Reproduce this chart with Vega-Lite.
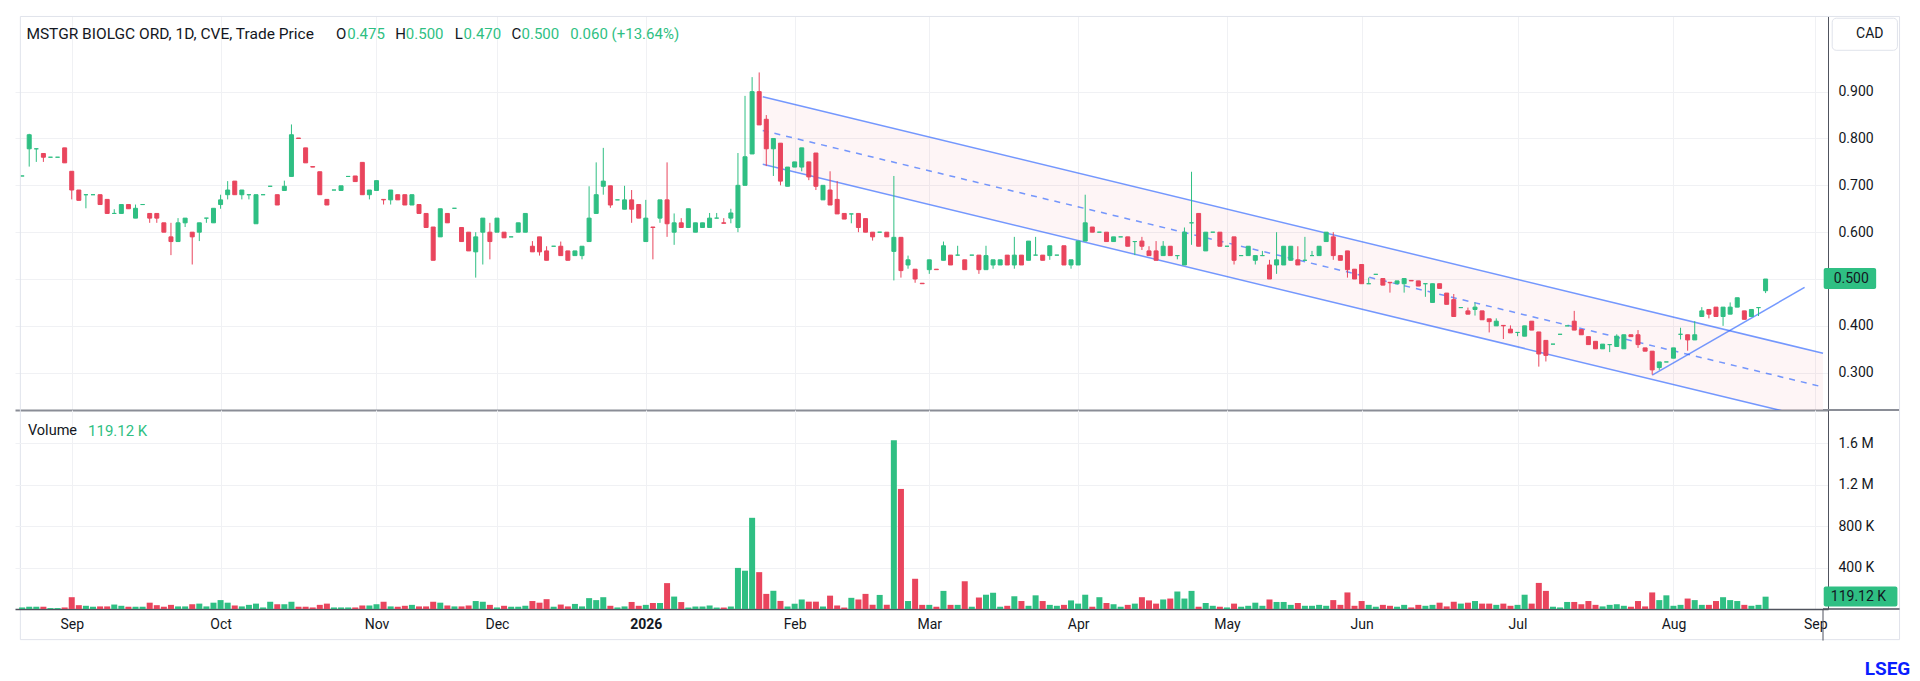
{
"$schema": "https://vega.github.io/schema/vega-lite/v6.json",
"padding": {"left": 15, "top": 15, "right": 5, "bottom": 5},
"background": "white",
"bounds": "flush",
"spacing": 0,
"config": {"view": {"stroke": null}, "font": "Roboto"},
"datasets": {
"one": [{}],
"chan": [{"i": 104.5, "up": 0.889, "lo": 0.745, "mid": 0.817}, {"i": 254.1, "up": 0.3415, "lo": 0.1975, "mid": 0.2695}],
"trend": [{"i": 230, "p": 0.295}, {"i": 251.5, "p": 0.482}],
"ohlc": [
{"i":0,"o":0.72,"h":0.72,"l":0.72,"c":0.72,"v":15000},
{"i":1,"o":0.778,"h":0.81,"l":0.74,"c":0.808,"v":22000},
{"i":2,"o":0.778,"h":0.778,"l":0.75,"c":0.778,"v":22000},
{"i":3,"o":0.768,"h":0.768,"l":0.75,"c":0.76,"v":22000},
{"i":4,"o":0.76,"h":0.76,"l":0.76,"c":0.76,"v":9000},
{"i":5,"o":0.76,"h":0.76,"l":0.76,"c":0.76,"v":9000},
{"i":6,"o":0.78,"h":0.78,"l":0.748,"c":0.748,"v":15000},
{"i":7,"o":0.73,"h":0.73,"l":0.67,"c":0.69,"v":114000},
{"i":8,"o":0.69,"h":0.69,"l":0.668,"c":0.668,"v":37000},
{"i":9,"o":0.68,"h":0.68,"l":0.651,"c":0.68,"v":31000},
{"i":10,"o":0.68,"h":0.68,"l":0.68,"c":0.68,"v":22000},
{"i":11,"o":0.68,"h":0.68,"l":0.659,"c":0.659,"v":25000},
{"i":12,"o":0.67,"h":0.67,"l":0.64,"c":0.64,"v":25000},
{"i":13,"o":0.64,"h":0.649,"l":0.64,"c":0.64,"v":43000},
{"i":14,"o":0.64,"h":0.659,"l":0.64,"c":0.659,"v":31000},
{"i":15,"o":0.659,"h":0.659,"l":0.65,"c":0.65,"v":22000},
{"i":16,"o":0.63,"h":0.659,"l":0.63,"c":0.651,"v":22000},
{"i":17,"o":0.659,"h":0.659,"l":0.659,"c":0.659,"v":22000},
{"i":18,"o":0.64,"h":0.64,"l":0.62,"c":0.63,"v":61000},
{"i":19,"o":0.64,"h":0.64,"l":0.62,"c":0.63,"v":37000},
{"i":20,"o":0.62,"h":0.62,"l":0.6,"c":0.6,"v":22000},
{"i":21,"o":0.59,"h":0.62,"l":0.551,"c":0.58,"v":40000},
{"i":22,"o":0.58,"h":0.63,"l":0.58,"c":0.62,"v":25000},
{"i":23,"o":0.62,"h":0.63,"l":0.611,"c":0.63,"v":25000},
{"i":24,"o":0.6,"h":0.6,"l":0.531,"c":0.59,"v":46000},
{"i":25,"o":0.6,"h":0.62,"l":0.581,"c":0.62,"v":52000},
{"i":26,"o":0.63,"h":0.63,"l":0.62,"c":0.63,"v":25000},
{"i":27,"o":0.62,"h":0.651,"l":0.62,"c":0.651,"v":61000},
{"i":28,"o":0.659,"h":0.68,"l":0.65,"c":0.669,"v":86000},
{"i":29,"o":0.68,"h":0.709,"l":0.67,"c":0.69,"v":61000},
{"i":30,"o":0.709,"h":0.709,"l":0.68,"c":0.68,"v":34000},
{"i":31,"o":0.68,"h":0.69,"l":0.67,"c":0.69,"v":25000},
{"i":32,"o":0.68,"h":0.68,"l":0.67,"c":0.68,"v":40000},
{"i":33,"o":0.618,"h":0.68,"l":0.618,"c":0.68,"v":52000},
{"i":34,"o":0.68,"h":0.68,"l":0.68,"c":0.68,"v":15000},
{"i":35,"o":0.698,"h":0.698,"l":0.698,"c":0.698,"v":70000},
{"i":36,"o":0.68,"h":0.68,"l":0.658,"c":0.658,"v":46000},
{"i":37,"o":0.689,"h":0.71,"l":0.689,"c":0.698,"v":46000},
{"i":38,"o":0.719,"h":0.83,"l":0.719,"c":0.808,"v":70000},
{"i":39,"o":0.801,"h":0.801,"l":0.8,"c":0.8,"v":22000},
{"i":40,"o":0.78,"h":0.78,"l":0.748,"c":0.748,"v":22000},
{"i":41,"o":0.74,"h":0.74,"l":0.739,"c":0.739,"v":15000},
{"i":42,"o":0.729,"h":0.729,"l":0.68,"c":0.68,"v":40000},
{"i":43,"o":0.67,"h":0.67,"l":0.658,"c":0.658,"v":52000},
{"i":44,"o":0.69,"h":0.69,"l":0.69,"c":0.69,"v":15000},
{"i":45,"o":0.689,"h":0.699,"l":0.689,"c":0.699,"v":15000},
{"i":46,"o":0.719,"h":0.719,"l":0.719,"c":0.719,"v":15000},
{"i":47,"o":0.72,"h":0.72,"l":0.708,"c":0.708,"v":15000},
{"i":48,"o":0.749,"h":0.749,"l":0.68,"c":0.68,"v":34000},
{"i":49,"o":0.68,"h":0.69,"l":0.67,"c":0.69,"v":34000},
{"i":50,"o":0.689,"h":0.71,"l":0.689,"c":0.71,"v":46000},
{"i":51,"o":0.67,"h":0.67,"l":0.659,"c":0.669,"v":70000},
{"i":52,"o":0.669,"h":0.69,"l":0.659,"c":0.69,"v":25000},
{"i":53,"o":0.68,"h":0.68,"l":0.669,"c":0.669,"v":22000},
{"i":54,"o":0.68,"h":0.68,"l":0.658,"c":0.658,"v":31000},
{"i":55,"o":0.658,"h":0.68,"l":0.658,"c":0.68,"v":40000},
{"i":56,"o":0.659,"h":0.659,"l":0.64,"c":0.64,"v":25000},
{"i":57,"o":0.64,"h":0.64,"l":0.61,"c":0.61,"v":25000},
{"i":58,"o":0.611,"h":0.611,"l":0.54,"c":0.54,"v":70000},
{"i":59,"o":0.59,"h":0.65,"l":0.59,"c":0.65,"v":61000},
{"i":60,"o":0.64,"h":0.64,"l":0.62,"c":0.62,"v":34000},
{"i":61,"o":0.651,"h":0.651,"l":0.651,"c":0.651,"v":25000},
{"i":62,"o":0.61,"h":0.61,"l":0.58,"c":0.58,"v":25000},
{"i":63,"o":0.6,"h":0.6,"l":0.56,"c":0.56,"v":34000},
{"i":64,"o":0.558,"h":0.6,"l":0.503,"c":0.59,"v":77000},
{"i":65,"o":0.6,"h":0.63,"l":0.531,"c":0.63,"v":70000},
{"i":66,"o":0.6,"h":0.62,"l":0.542,"c":0.58,"v":40000},
{"i":67,"o":0.6,"h":0.63,"l":0.6,"c":0.63,"v":15000},
{"i":68,"o":0.6,"h":0.6,"l":0.588,"c":0.588,"v":31000},
{"i":69,"o":0.59,"h":0.59,"l":0.59,"c":0.59,"v":22000},
{"i":70,"o":0.6,"h":0.62,"l":0.6,"c":0.62,"v":22000},
{"i":71,"o":0.6,"h":0.64,"l":0.6,"c":0.64,"v":31000},
{"i":72,"o":0.57,"h":0.581,"l":0.558,"c":0.558,"v":77000},
{"i":73,"o":0.59,"h":0.59,"l":0.55,"c":0.558,"v":61000},
{"i":74,"o":0.56,"h":0.57,"l":0.54,"c":0.54,"v":95000},
{"i":75,"o":0.57,"h":0.57,"l":0.57,"c":0.57,"v":22000},
{"i":76,"o":0.57,"h":0.58,"l":0.55,"c":0.55,"v":43000},
{"i":77,"o":0.56,"h":0.56,"l":0.54,"c":0.54,"v":25000},
{"i":78,"o":0.55,"h":0.56,"l":0.55,"c":0.56,"v":49000},
{"i":79,"o":0.55,"h":0.57,"l":0.542,"c":0.57,"v":25000},
{"i":80,"o":0.58,"h":0.698,"l":0.58,"c":0.63,"v":105000},
{"i":81,"o":0.64,"h":0.749,"l":0.64,"c":0.68,"v":86000},
{"i":82,"o":0.698,"h":0.78,"l":0.68,"c":0.709,"v":114000},
{"i":83,"o":0.699,"h":0.699,"l":0.652,"c":0.658,"v":31000},
{"i":84,"o":0.669,"h":0.669,"l":0.669,"c":0.669,"v":15000},
{"i":85,"o":0.649,"h":0.699,"l":0.649,"c":0.669,"v":25000},
{"i":86,"o":0.669,"h":0.69,"l":0.62,"c":0.649,"v":68000},
{"i":87,"o":0.659,"h":0.659,"l":0.63,"c":0.63,"v":31000},
{"i":88,"o":0.58,"h":0.669,"l":0.58,"c":0.63,"v":40000},
{"i":89,"o":0.611,"h":0.611,"l":0.542,"c":0.61,"v":58000},
{"i":90,"o":0.63,"h":0.669,"l":0.62,"c":0.669,"v":58000},
{"i":91,"o":0.669,"h":0.749,"l":0.59,"c":0.618,"v":250000},
{"i":92,"o":0.6,"h":0.64,"l":0.573,"c":0.62,"v":120000},
{"i":93,"o":0.62,"h":0.63,"l":0.61,"c":0.61,"v":67000},
{"i":94,"o":0.61,"h":0.65,"l":0.61,"c":0.65,"v":14000},
{"i":95,"o":0.6,"h":0.62,"l":0.6,"c":0.62,"v":24000},
{"i":96,"o":0.61,"h":0.62,"l":0.61,"c":0.62,"v":24000},
{"i":97,"o":0.61,"h":0.641,"l":0.61,"c":0.63,"v":34000},
{"i":98,"o":0.63,"h":0.641,"l":0.63,"c":0.63,"v":14000},
{"i":99,"o":0.62,"h":0.63,"l":0.619,"c":0.619,"v":14000},
{"i":100,"o":0.63,"h":0.65,"l":0.619,"c":0.641,"v":24000},
{"i":101,"o":0.61,"h":0.769,"l":0.6,"c":0.7,"v":397000},
{"i":102,"o":0.7,"h":0.891,"l":0.7,"c":0.761,"v":370000},
{"i":103,"o":0.767,"h":0.931,"l":0.767,"c":0.9,"v":881000},
{"i":104,"o":0.9,"h":0.941,"l":0.829,"c":0.829,"v":356000},
{"i":105,"o":0.841,"h":0.85,"l":0.741,"c":0.778,"v":146000},
{"i":106,"o":0.778,"h":0.8,"l":0.72,"c":0.8,"v":176000},
{"i":107,"o":0.79,"h":0.79,"l":0.7,"c":0.709,"v":78000},
{"i":108,"o":0.698,"h":0.739,"l":0.698,"c":0.739,"v":24000},
{"i":109,"o":0.739,"h":0.75,"l":0.739,"c":0.75,"v":51000},
{"i":110,"o":0.739,"h":0.78,"l":0.73,"c":0.78,"v":92000},
{"i":111,"o":0.75,"h":0.75,"l":0.711,"c":0.718,"v":71000},
{"i":112,"o":0.769,"h":0.769,"l":0.69,"c":0.698,"v":71000},
{"i":113,"o":0.669,"h":0.7,"l":0.669,"c":0.7,"v":24000},
{"i":114,"o":0.69,"h":0.73,"l":0.658,"c":0.658,"v":129000},
{"i":115,"o":0.67,"h":0.709,"l":0.639,"c":0.639,"v":34000},
{"i":116,"o":0.64,"h":0.64,"l":0.628,"c":0.628,"v":14000},
{"i":117,"o":0.639,"h":0.639,"l":0.619,"c":0.639,"v":108000},
{"i":118,"o":0.64,"h":0.64,"l":0.6,"c":0.61,"v":92000},
{"i":119,"o":0.629,"h":0.629,"l":0.6,"c":0.6,"v":146000},
{"i":120,"o":0.6,"h":0.6,"l":0.582,"c":0.59,"v":41000},
{"i":121,"o":0.6,"h":0.6,"l":0.6,"c":0.6,"v":136000},
{"i":122,"o":0.6,"h":0.6,"l":0.59,"c":0.59,"v":41000},
{"i":123,"o":0.559,"h":0.72,"l":0.497,"c":0.589,"v":1630000},
{"i":124,"o":0.589,"h":0.589,"l":0.503,"c":0.518,"v":1160000},
{"i":125,"o":0.53,"h":0.55,"l":0.522,"c":0.541,"v":77000},
{"i":126,"o":0.521,"h":0.521,"l":0.492,"c":0.5,"v":292000},
{"i":127,"o":0.491,"h":0.491,"l":0.49,"c":0.49,"v":40000},
{"i":128,"o":0.52,"h":0.541,"l":0.511,"c":0.541,"v":40000},
{"i":129,"o":0.521,"h":0.521,"l":0.52,"c":0.52,"v":22000},
{"i":130,"o":0.54,"h":0.58,"l":0.54,"c":0.571,"v":175000},
{"i":131,"o":0.551,"h":0.551,"l":0.53,"c":0.53,"v":40000},
{"i":132,"o":0.551,"h":0.571,"l":0.551,"c":0.551,"v":40000},
{"i":133,"o":0.541,"h":0.541,"l":0.52,"c":0.52,"v":268000},
{"i":134,"o":0.551,"h":0.551,"l":0.551,"c":0.551,"v":22000},
{"i":135,"o":0.551,"h":0.551,"l":0.511,"c":0.52,"v":111000},
{"i":136,"o":0.52,"h":0.571,"l":0.52,"c":0.55,"v":138000},
{"i":137,"o":0.53,"h":0.541,"l":0.522,"c":0.541,"v":157000},
{"i":138,"o":0.53,"h":0.541,"l":0.53,"c":0.541,"v":22000},
{"i":139,"o":0.551,"h":0.551,"l":0.53,"c":0.53,"v":31000},
{"i":140,"o":0.53,"h":0.59,"l":0.522,"c":0.551,"v":123000},
{"i":141,"o":0.551,"h":0.551,"l":0.53,"c":0.53,"v":77000},
{"i":142,"o":0.54,"h":0.581,"l":0.54,"c":0.581,"v":31000},
{"i":143,"o":0.551,"h":0.59,"l":0.551,"c":0.551,"v":132000},
{"i":144,"o":0.551,"h":0.551,"l":0.54,"c":0.54,"v":77000},
{"i":145,"o":0.55,"h":0.571,"l":0.541,"c":0.571,"v":40000},
{"i":146,"o":0.551,"h":0.551,"l":0.551,"c":0.551,"v":31000},
{"i":147,"o":0.571,"h":0.571,"l":0.53,"c":0.53,"v":40000},
{"i":148,"o":0.53,"h":0.541,"l":0.522,"c":0.541,"v":83000},
{"i":149,"o":0.53,"h":0.581,"l":0.53,"c":0.581,"v":52000},
{"i":150,"o":0.581,"h":0.68,"l":0.581,"c":0.62,"v":138000},
{"i":151,"o":0.611,"h":0.611,"l":0.6,"c":0.6,"v":22000},
{"i":152,"o":0.6,"h":0.6,"l":0.6,"c":0.6,"v":114000},
{"i":153,"o":0.6,"h":0.6,"l":0.58,"c":0.58,"v":58000},
{"i":154,"o":0.58,"h":0.59,"l":0.58,"c":0.59,"v":46000},
{"i":155,"o":0.59,"h":0.59,"l":0.59,"c":0.59,"v":22000},
{"i":156,"o":0.59,"h":0.59,"l":0.57,"c":0.57,"v":40000},
{"i":157,"o":0.58,"h":0.58,"l":0.551,"c":0.58,"v":52000},
{"i":158,"o":0.581,"h":0.59,"l":0.562,"c":0.57,"v":114000},
{"i":159,"o":0.56,"h":0.57,"l":0.55,"c":0.55,"v":83000},
{"i":160,"o":0.56,"h":0.581,"l":0.54,"c":0.54,"v":52000},
{"i":161,"o":0.55,"h":0.581,"l":0.55,"c":0.57,"v":92000},
{"i":162,"o":0.57,"h":0.57,"l":0.55,"c":0.55,"v":101000},
{"i":163,"o":0.55,"h":0.55,"l":0.542,"c":0.55,"v":169000},
{"i":164,"o":0.53,"h":0.61,"l":0.53,"c":0.6,"v":101000},
{"i":165,"o":0.62,"h":0.729,"l":0.573,"c":0.62,"v":175000},
{"i":166,"o":0.64,"h":0.64,"l":0.57,"c":0.57,"v":22000},
{"i":167,"o":0.56,"h":0.6,"l":0.56,"c":0.6,"v":58000},
{"i":168,"o":0.6,"h":0.6,"l":0.6,"c":0.6,"v":31000},
{"i":169,"o":0.6,"h":0.6,"l":0.57,"c":0.57,"v":22000},
{"i":170,"o":0.57,"h":0.57,"l":0.57,"c":0.57,"v":15000},
{"i":171,"o":0.59,"h":0.59,"l":0.531,"c":0.54,"v":52000},
{"i":172,"o":0.55,"h":0.55,"l":0.55,"c":0.55,"v":22000},
{"i":173,"o":0.55,"h":0.57,"l":0.55,"c":0.57,"v":31000},
{"i":174,"o":0.54,"h":0.55,"l":0.531,"c":0.55,"v":61000},
{"i":175,"o":0.55,"h":0.56,"l":0.55,"c":0.55,"v":31000},
{"i":176,"o":0.53,"h":0.541,"l":0.5,"c":0.5,"v":92000},
{"i":177,"o":0.53,"h":0.6,"l":0.511,"c":0.541,"v":68000},
{"i":178,"o":0.53,"h":0.57,"l":0.53,"c":0.57,"v":68000},
{"i":179,"o":0.54,"h":0.57,"l":0.54,"c":0.57,"v":40000},
{"i":180,"o":0.541,"h":0.57,"l":0.53,"c":0.53,"v":58000},
{"i":181,"o":0.54,"h":0.59,"l":0.54,"c":0.54,"v":31000},
{"i":182,"o":0.55,"h":0.56,"l":0.55,"c":0.55,"v":31000},
{"i":183,"o":0.55,"h":0.57,"l":0.55,"c":0.57,"v":40000},
{"i":184,"o":0.58,"h":0.6,"l":0.58,"c":0.6,"v":31000},
{"i":185,"o":0.59,"h":0.6,"l":0.541,"c":0.55,"v":86000},
{"i":186,"o":0.55,"h":0.55,"l":0.54,"c":0.54,"v":40000},
{"i":187,"o":0.56,"h":0.56,"l":0.503,"c":0.52,"v":160000},
{"i":188,"o":0.521,"h":0.521,"l":0.5,"c":0.5,"v":31000},
{"i":189,"o":0.531,"h":0.531,"l":0.49,"c":0.49,"v":77000},
{"i":190,"o":0.49,"h":0.503,"l":0.49,"c":0.49,"v":40000},
{"i":191,"o":0.51,"h":0.51,"l":0.51,"c":0.51,"v":22000},
{"i":192,"o":0.501,"h":0.501,"l":0.487,"c":0.487,"v":40000},
{"i":193,"o":0.493,"h":0.493,"l":0.471,"c":0.492,"v":31000},
{"i":194,"o":0.49,"h":0.496,"l":0.49,"c":0.496,"v":22000},
{"i":195,"o":0.49,"h":0.501,"l":0.471,"c":0.501,"v":40000},
{"i":196,"o":0.497,"h":0.497,"l":0.496,"c":0.496,"v":15000},
{"i":197,"o":0.496,"h":0.496,"l":0.485,"c":0.485,"v":40000},
{"i":198,"o":0.49,"h":0.49,"l":0.462,"c":0.49,"v":31000},
{"i":199,"o":0.45,"h":0.49,"l":0.45,"c":0.49,"v":40000},
{"i":200,"o":0.49,"h":0.49,"l":0.48,"c":0.48,"v":61000},
{"i":201,"o":0.47,"h":0.47,"l":0.446,"c":0.446,"v":25000},
{"i":202,"o":0.456,"h":0.468,"l":0.42,"c":0.42,"v":70000},
{"i":203,"o":0.439,"h":0.439,"l":0.439,"c":0.439,"v":52000},
{"i":204,"o":0.432,"h":0.439,"l":0.425,"c":0.425,"v":61000},
{"i":205,"o":0.435,"h":0.45,"l":0.422,"c":0.44,"v":77000},
{"i":206,"o":0.432,"h":0.432,"l":0.413,"c":0.413,"v":52000},
{"i":207,"o":0.415,"h":0.415,"l":0.386,"c":0.409,"v":52000},
{"i":208,"o":0.4,"h":0.416,"l":0.4,"c":0.41,"v":40000},
{"i":209,"o":0.401,"h":0.401,"l":0.372,"c":0.4,"v":52000},
{"i":210,"o":0.393,"h":0.401,"l":0.385,"c":0.385,"v":31000},
{"i":211,"o":0.386,"h":0.386,"l":0.378,"c":0.386,"v":40000},
{"i":212,"o":0.378,"h":0.4,"l":0.378,"c":0.4,"v":138000},
{"i":213,"o":0.41,"h":0.41,"l":0.391,"c":0.391,"v":52000},
{"i":214,"o":0.387,"h":0.387,"l":0.313,"c":0.34,"v":252000},
{"i":215,"o":0.369,"h":0.369,"l":0.324,"c":0.337,"v":175000},
{"i":216,"o":0.361,"h":0.361,"l":0.361,"c":0.361,"v":22000},
{"i":217,"o":0.382,"h":0.382,"l":0.382,"c":0.382,"v":15000},
{"i":218,"o":0.4,"h":0.4,"l":0.4,"c":0.4,"v":68000},
{"i":219,"o":0.41,"h":0.432,"l":0.391,"c":0.391,"v":68000},
{"i":220,"o":0.392,"h":0.392,"l":0.381,"c":0.381,"v":46000},
{"i":221,"o":0.377,"h":0.377,"l":0.36,"c":0.36,"v":77000},
{"i":222,"o":0.367,"h":0.367,"l":0.351,"c":0.351,"v":40000},
{"i":223,"o":0.351,"h":0.361,"l":0.351,"c":0.361,"v":25000},
{"i":224,"o":0.36,"h":0.36,"l":0.344,"c":0.36,"v":40000},
{"i":225,"o":0.356,"h":0.382,"l":0.356,"c":0.378,"v":46000},
{"i":226,"o":0.351,"h":0.381,"l":0.351,"c":0.381,"v":31000},
{"i":227,"o":0.381,"h":0.381,"l":0.377,"c":0.377,"v":22000},
{"i":228,"o":0.381,"h":0.391,"l":0.353,"c":0.36,"v":77000},
{"i":229,"o":0.353,"h":0.353,"l":0.346,"c":0.346,"v":25000},
{"i":230,"o":0.346,"h":0.346,"l":0.296,"c":0.306,"v":160000},
{"i":231,"o":0.311,"h":0.323,"l":0.306,"c":0.323,"v":86000},
{"i":232,"o":0.323,"h":0.323,"l":0.323,"c":0.323,"v":132000},
{"i":233,"o":0.331,"h":0.353,"l":0.331,"c":0.353,"v":31000},
{"i":234,"o":0.382,"h":0.396,"l":0.371,"c":0.382,"v":40000},
{"i":235,"o":0.381,"h":0.381,"l":0.347,"c":0.37,"v":101000},
{"i":236,"o":0.37,"h":0.41,"l":0.37,"c":0.381,"v":86000},
{"i":237,"o":0.42,"h":0.44,"l":0.42,"c":0.432,"v":40000},
{"i":238,"o":0.435,"h":0.435,"l":0.416,"c":0.425,"v":40000},
{"i":239,"o":0.44,"h":0.44,"l":0.42,"c":0.42,"v":77000},
{"i":240,"o":0.42,"h":0.44,"l":0.4,"c":0.44,"v":114000},
{"i":241,"o":0.425,"h":0.45,"l":0.425,"c":0.44,"v":86000},
{"i":242,"o":0.44,"h":0.46,"l":0.44,"c":0.46,"v":77000},
{"i":243,"o":0.432,"h":0.432,"l":0.414,"c":0.414,"v":40000},
{"i":244,"o":0.42,"h":0.435,"l":0.42,"c":0.435,"v":31000},
{"i":245,"o":0.439,"h":0.439,"l":0.421,"c":0.439,"v":40000},
{"i":246,"o":0.475,"h":0.5,"l":0.47,"c":0.5,"v":119120}
]
},
"vconcat": [
{
"width": 1813, "height": 394,
"layer": [
{"data": {"name": "chan"}, "mark": {"type": "area", "color": "#f23645", "opacity": 0.05, "clip": true},
 "encoding": {
  "x": {"field": "i", "type": "quantitative", "scale": {"domain": [-0.3, 254.1], "nice": false, "zero": false},
        "axis": {"orient": "bottom", "title": null, "values": [7,28,50,67,88,109,128,149,170,189,211,233,253], "labels": false, "ticks": false, "tickSize": 0, "domain": true, "domainColor": "#8a8d96", "domainWidth": 2, "grid": true, "gridColor": "#f0f1f4", "gridWidth": 1}},
  "y": {"field": "up", "type": "quantitative", "scale": {"domain": [0.2204, 1.0615], "nice": false, "zero": false},
        "axis": {"orient": "right", "title": null, "values": [0.3,0.4,0.5,0.6,0.7,0.8,0.9], "labelExpr": "datum.value == 0.5 ? '' : format(datum.value, '.3f')", "ticks": false, "tickSize": 0, "labelPadding": 10, "labelFontSize": 14, "labelColor": "#131722", "domain": true, "domainColor": "#50535e", "grid": true, "gridColor": "#f0f1f4"}},
  "y2": {"field": "lo"}}},
{"data": {"name": "chan"}, "mark": {"type": "line", "color": "#2962ff", "opacity": 0.65, "strokeWidth": 1.5, "clip": true},
 "encoding": {"x": {"field": "i", "type": "quantitative"}, "y": {"field": "up", "type": "quantitative"}}},
{"data": {"name": "chan"}, "mark": {"type": "line", "color": "#2962ff", "opacity": 0.65, "strokeWidth": 1.5, "clip": true},
 "encoding": {"x": {"field": "i", "type": "quantitative"}, "y": {"field": "lo", "type": "quantitative"}}},
{"data": {"name": "chan"}, "mark": {"type": "line", "color": "#2962ff", "opacity": 0.65, "strokeWidth": 1.5, "strokeDash": [6, 6], "clip": true},
 "encoding": {"x": {"field": "i", "type": "quantitative"}, "y": {"field": "mid", "type": "quantitative"}}},
{"data": {"name": "trend"}, "mark": {"type": "line", "color": "#2962ff", "opacity": 0.65, "strokeWidth": 1.5, "clip": true},
 "encoding": {"x": {"field": "i", "type": "quantitative"}, "y": {"field": "p", "type": "quantitative"}}},
{"data": {"name": "ohlc"}, "mark": {"type": "rule", "strokeWidth": 1},
 "encoding": {"x": {"field": "i", "type": "quantitative"}, "y": {"field": "l", "type": "quantitative"}, "y2": {"field": "h"},
  "color": {"condition": {"test": "datum.c >= datum.o", "value": "#2fbf83"}, "value": "#e9455d"}}},
{"data": {"name": "ohlc"}, "mark": {"type": "bar", "width": 4, "strokeWidth": 1},
 "encoding": {"x": {"field": "i", "type": "quantitative"}, "y": {"field": "o", "type": "quantitative"}, "y2": {"field": "c"},
  "fill": {"condition": {"test": "datum.c >= datum.o", "value": "#2fbf83"}, "value": "#e9455d"},
  "stroke": {"condition": {"test": "datum.c >= datum.o", "value": "#2fbf83"}, "value": "#e9455d"}}},
{"data": {"name": "one"}, "mark": {"type": "text", "align": "left", "baseline": "middle", "fontSize": 15.5, "color": "#131722"},
 "encoding": {"x": {"datum": 0.6, "type": "quantitative"}, "y": {"datum": 1.0225, "type": "quantitative"}, "text": {"value": "MSTGR BIOLGC ORD, 1D, CVE, Trade Price"}}},
{"data": {"name": "one"}, "mark": {"type": "text", "align": "left", "baseline": "middle", "fontSize": 15, "color": "#131722"},
 "encoding": {"x": {"datum": 44.3, "type": "quantitative"}, "y": {"datum": 1.0225, "type": "quantitative"}, "text": {"value": "O"}}},
{"data": {"name": "one"}, "mark": {"type": "text", "align": "left", "baseline": "middle", "fontSize": 15, "color": "#2fbf83"},
 "encoding": {"x": {"datum": 45.87, "type": "quantitative"}, "y": {"datum": 1.0225, "type": "quantitative"}, "text": {"value": "0.475"}}},
{"data": {"name": "one"}, "mark": {"type": "text", "align": "left", "baseline": "middle", "fontSize": 15, "color": "#131722"},
 "encoding": {"x": {"datum": 52.64, "type": "quantitative"}, "y": {"datum": 1.0225, "type": "quantitative"}, "text": {"value": "H"}}},
{"data": {"name": "one"}, "mark": {"type": "text", "align": "left", "baseline": "middle", "fontSize": 15, "color": "#2fbf83"},
 "encoding": {"x": {"datum": 54.14, "type": "quantitative"}, "y": {"datum": 1.0225, "type": "quantitative"}, "text": {"value": "0.500"}}},
{"data": {"name": "one"}, "mark": {"type": "text", "align": "left", "baseline": "middle", "fontSize": 15, "color": "#131722"},
 "encoding": {"x": {"datum": 61.03, "type": "quantitative"}, "y": {"datum": 1.0225, "type": "quantitative"}, "text": {"value": "L"}}},
{"data": {"name": "one"}, "mark": {"type": "text", "align": "left", "baseline": "middle", "fontSize": 15, "color": "#2fbf83"},
 "encoding": {"x": {"datum": 62.28, "type": "quantitative"}, "y": {"datum": 1.0225, "type": "quantitative"}, "text": {"value": "0.470"}}},
{"data": {"name": "one"}, "mark": {"type": "text", "align": "left", "baseline": "middle", "fontSize": 15, "color": "#131722"},
 "encoding": {"x": {"datum": 69.05, "type": "quantitative"}, "y": {"datum": 1.0225, "type": "quantitative"}, "text": {"value": "C"}}},
{"data": {"name": "one"}, "mark": {"type": "text", "align": "left", "baseline": "middle", "fontSize": 15, "color": "#2fbf83"},
 "encoding": {"x": {"datum": 70.46, "type": "quantitative"}, "y": {"datum": 1.0225, "type": "quantitative"}, "text": {"value": "0.500"}}},
{"data": {"name": "one"}, "mark": {"type": "text", "align": "left", "baseline": "middle", "fontSize": 15, "color": "#2fbf83"},
 "encoding": {"x": {"datum": 77.33, "type": "quantitative"}, "y": {"datum": 1.0225, "type": "quantitative"}, "text": {"value": "0.060 (+13.64%)"}}},
{"data": {"name": "one"}, "mark": {"type": "rect", "color": "#2fbf83", "cornerRadius": 2},
 "encoding": {"x": {"datum": 254.2, "type": "quantitative"}, "x2": {"datum": 261.6}, "y": {"datum": 0.4785, "type": "quantitative"}, "y2": {"datum": 0.5233}}},
{"data": {"name": "one"}, "mark": {"type": "text", "align": "left", "baseline": "middle", "fontSize": 14, "color": "#131722"},
 "encoding": {"x": {"datum": 255.6, "type": "quantitative"}, "y": {"datum": 0.5, "type": "quantitative"}, "text": {"value": "0.500"}}},
{"data": {"name": "one"}, "mark": {"type": "rect", "fill": "white", "stroke": "#e0e3eb", "strokeWidth": 1, "cornerRadius": 4},
 "encoding": {"x": {"datum": 255.4, "type": "quantitative"}, "x2": {"datum": 264.6}, "y": {"datum": 0.9883, "type": "quantitative"}, "y2": {"datum": 1.0567}}},
{"data": {"name": "one"}, "mark": {"type": "text", "align": "center", "baseline": "middle", "fontSize": 14, "color": "#131722"},
 "encoding": {"x": {"datum": 260.7, "type": "quantitative"}, "y": {"datum": 1.0225, "type": "quantitative"}, "text": {"value": "CAD"}}},
{"data": {"name": "one"}, "mark": {"type": "rule", "color": "#8a8d96", "strokeWidth": 2},
 "encoding": {"x": {"datum": 254.1, "type": "quantitative"}, "x2": {"datum": 264.9}, "y": {"datum": 0.2204, "type": "quantitative"}}},
{"data": {"name": "one"}, "mark": {"type": "rect", "fill": null, "stroke": "#e0e3eb", "strokeWidth": 1},
 "encoding": {"x": {"datum": -0.25, "type": "quantitative"}, "x2": {"datum": 264.9}, "y": {"datum": 1.0605, "type": "quantitative"}, "y2": {"datum": -0.2698}}}
]
},
{
"width": 1813, "height": 199,
"layer": [
{"data": {"name": "ohlc"}, "mark": {"type": "bar", "width": 6},
 "encoding": {
  "x": {"field": "i", "type": "quantitative", "scale": {"domain": [-0.3, 254.1], "nice": false, "zero": false},
        "axis": {"orient": "bottom", "title": null, "values": [7,28,50,67,88,109,128,149,170,189,211,233,253],
          "labelExpr": "datum.value == 7 ? 'Sep' : datum.value == 28 ? 'Oct' : datum.value == 50 ? 'Nov' : datum.value == 67 ? 'Dec' : datum.value == 88 ? '2026' : datum.value == 109 ? 'Feb' : datum.value == 128 ? 'Mar' : datum.value == 149 ? 'Apr' : datum.value == 170 ? 'May' : datum.value == 189 ? 'Jun' : datum.value == 211 ? 'Jul' : datum.value == 233 ? 'Aug' : 'Sep'",
          "labelFontWeight": {"condition": {"test": "datum.value == 88", "value": "bold"}, "value": "normal"},
          "labelOverlap": false, "ticks": false, "tickSize": 0, "labelPadding": 8, "labelFontSize": 14, "labelColor": "#131722", "domain": true, "domainColor": "#50535e", "domainWidth": 1.5, "grid": true, "gridColor": "#f0f1f4"}},
  "y": {"field": "v", "type": "quantitative", "scale": {"domain": [0, 1922600], "nice": false, "zero": false},
        "axis": {"orient": "right", "title": null, "values": [400000, 800000, 1200000, 1600000],
          "labelExpr": "datum.value >= 1000000 ? format(datum.value / 1000000, '.1f') + ' M' : format(datum.value / 1000, '.0f') + ' K'",
          "ticks": false, "tickSize": 0, "labelPadding": 10, "labelFontSize": 14, "labelColor": "#131722", "domain": true, "domainColor": "#50535e", "grid": true, "gridColor": "#f0f1f4"}},
  "color": {"condition": {"test": "datum.c >= datum.o", "value": "#2fbf83"}, "value": "#e9455d"}}},
{"data": {"name": "one"}, "mark": {"type": "text", "align": "left", "baseline": "middle", "fontSize": 14.5, "color": "#131722"},
 "encoding": {"x": {"datum": 0.82, "type": "quantitative"}, "y": {"datum": 1717000, "type": "quantitative"}, "text": {"value": "Volume"}}},
{"data": {"name": "one"}, "mark": {"type": "text", "align": "left", "baseline": "middle", "fontSize": 15, "color": "#2fbf83"},
 "encoding": {"x": {"datum": 9.3, "type": "quantitative"}, "y": {"datum": 1717000, "type": "quantitative"}, "text": {"value": "119.12 K"}}},
{"data": {"name": "one"}, "mark": {"type": "rect", "color": "#2fbf83", "cornerRadius": 2},
 "encoding": {"x": {"datum": 254.2, "type": "quantitative"}, "x2": {"datum": 264.6}, "y": {"datum": 24000, "type": "quantitative"}, "y2": {"datum": 217600}}},
{"data": {"name": "one"}, "mark": {"type": "text", "align": "left", "baseline": "middle", "fontSize": 14, "color": "#131722"},
 "encoding": {"x": {"datum": 255.2, "type": "quantitative"}, "y": {"datum": 120000, "type": "quantitative"}, "text": {"value": "119.12 K"}}},
{"data": {"name": "one"}, "mark": {"type": "rule", "color": "#50535e", "strokeWidth": 1},
 "encoding": {"x": {"datum": 254.1, "type": "quantitative"}, "y": {"datum": 0, "type": "quantitative"}, "y2": {"datum": -305000}}},
{"data": {"name": "one"}, "mark": {"type": "rule", "color": "#50535e", "strokeWidth": 1.5},
 "encoding": {"x": {"datum": 254.1, "type": "quantitative"}, "x2": {"datum": 264.9}, "y": {"datum": 0, "type": "quantitative"}}},
{"data": {"name": "one"}, "mark": {"type": "text", "align": "center", "baseline": "middle", "fontSize": 19, "fontWeight": "bold", "color": "#0a1eff"},
 "encoding": {"x": {"datum": 263.2, "type": "quantitative"}, "y": {"datum": -575000, "type": "quantitative"}, "text": {"value": "LSEG"}}}
]
}
]
}
